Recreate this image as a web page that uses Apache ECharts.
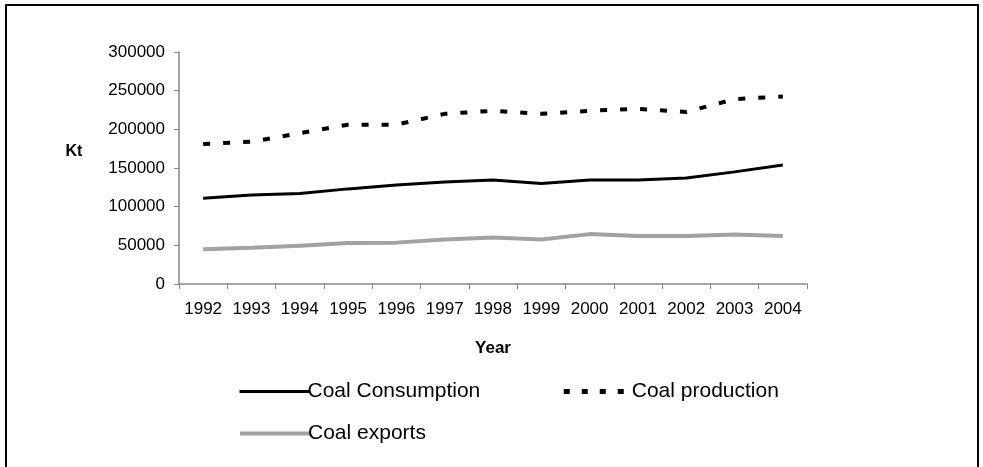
<!DOCTYPE html>
<html>
<head>
<meta charset="utf-8">
<script src="https://cdn.jsdelivr.net/npm/echarts@6/dist/echarts.min.js"></script>
<style>
html,body{margin:0;padding:0;background:#fff;}
#c{width:983px;height:467px;}
</style>
</head>
<body>
<div id="c"></div>
<script>
const years = ['1992','1993','1994','1995','1996','1997','1998','1999','2000','2001','2002','2003','2004'];
const consumption = [111000,115000,117000,123000,128000,132000,134500,130000,134500,134500,137000,145000,154000];
const production = [181000,184000,195000,206000,206000,220000,224000,220000,224000,226500,222500,239000,242500];
const exportsData = [45000,47000,49500,53000,53500,57500,60000,57500,64500,62000,62000,64000,62000];
const yTicks = [0,50000,100000,150000,200000,250000,300000];

const FONT = 'Arial, "Liberation Sans", sans-serif';
const chart = echarts.init(document.getElementById('c'), null, {renderer:'canvas'});
chart.setOption({
  backgroundColor:'#fff',
  animation:false,
  textStyle:{fontFamily:FONT},
  grid:{left:179, right:176, top:52, bottom:183, containLabel:false},
  graphic:[
    {type:'rect', shape:{x:6,y:5,width:972,height:470}, style:{fill:'none', stroke:'#000', lineWidth:2}},
    {type:'text', x:74, y:152, style:{text:'Kt', font:'bold 16px ' + FONT, fill:'#000', align:'center', verticalAlign:'middle'}}
  ],
  legend:[
    {data:[
       {name:'Coal Consumption', lineStyle:{width:3, color:'#000'}},
       {name:'Coal production', lineStyle:{width:5, color:'#000', type:[6,12], dashOffset:0}}
     ], left:233, top:376, itemWidth:70, itemHeight:14, itemGap:81,
     itemStyle:{opacity:0},
     textStyle:{fontSize:21, color:'#000', fontFamily:FONT, padding:[0,0,0,-7]}},
    {data:[{name:'Coal exports', lineStyle:{width:4, color:'#a2a2a2'}}], left:233, top:418, itemWidth:70, itemHeight:14,
     itemStyle:{opacity:0},
     textStyle:{fontSize:21, color:'#000', fontFamily:FONT, padding:[0,0,0,-7]}}
  ],
  xAxis:{
    type:'category', data:years, boundaryGap:true,
    name:'Year', nameLocation:'middle', nameGap:56,
    nameTextStyle:{fontSize:17, fontWeight:'bold', color:'#000', fontFamily:FONT},
    axisLine:{lineStyle:{color:'#868686', width:1.5}},
    axisTick:{show:true, length:5, inside:false, lineStyle:{color:'#868686'}},
    axisLabel:{fontSize:17, color:'#000', margin:17, interval:0, fontFamily:FONT}
  },
  yAxis:{
    type:'value', min:0, max:300000, interval:50000,
    axisLine:{show:true, lineStyle:{color:'#868686', width:1.5}},
    axisTick:{show:true, length:5, lineStyle:{color:'#868686'}},
    splitLine:{show:false},
    axisLabel:{fontSize:17, color:'#000', margin:14, fontFamily:FONT,
      formatter: function(v){ return String(v); }}
  },
  series:[
    {name:'Coal Consumption', type:'line', data:consumption, symbol:'none',
     lineStyle:{color:'#000', width:3}, itemStyle:{color:'#000'}},
    {name:'Coal production', type:'line', data:production, symbol:'none',
     lineStyle:{color:'#000', width:4, type:[7,13]}, itemStyle:{color:'#000'}},
    {name:'Coal exports', type:'line', data:exportsData, symbol:'none',
     lineStyle:{color:'#a2a2a2', width:4}, itemStyle:{color:'#a2a2a2'}}
  ]
});
</script>
</body>
</html>
